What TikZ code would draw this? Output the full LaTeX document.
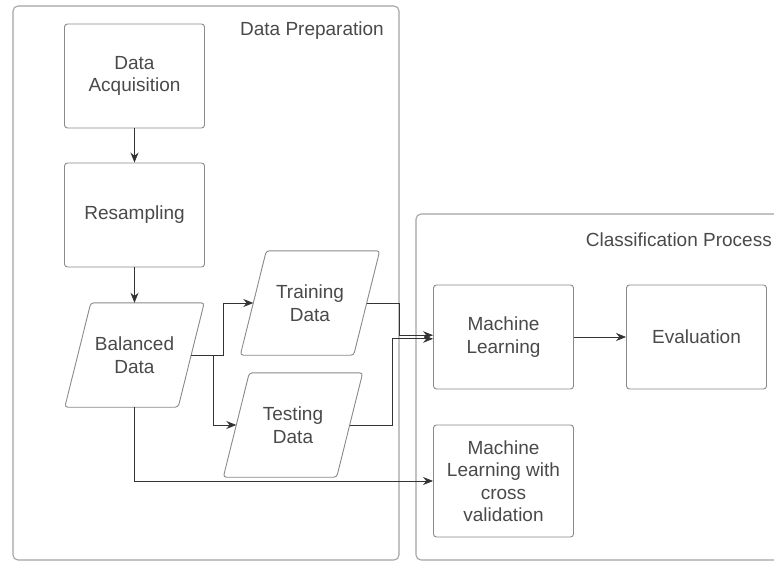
\documentclass[tikz,border=0pt]{standalone}
\usepackage{fontspec}
\setmainfont{Liberation Sans}
\usetikzlibrary{arrows.meta,calc}
\definecolor{boxline}{HTML}{8A8A8A}
\definecolor{contline}{HTML}{A4A4A4}
\definecolor{txt}{HTML}{4A4A4A}
\definecolor{arrc}{HTML}{333333}
\begin{document}
\begin{tikzpicture}[x=1pt,y=-1pt,
  font=\fontsize{19}{22.5}\selectfont,
  every node/.style={text=txt},
  container/.style={draw=contline,line width=1.1pt,rounded corners=5pt},
  procbox/.style={draw=boxline,line width=0.9pt,rounded corners=3pt,minimum width=140pt,minimum height=104pt,align=center,inner sep=0pt},
  ioarea/.style={minimum width=139pt,minimum height=104pt,align=center,inner sep=0pt},
  para/.style={draw=boxline,line width=0.9pt,rounded corners=3pt},
  arr/.style={draw=arrc,line width=0.8pt,-{Stealth[length=10pt,width=8pt]}},
  lbl/.style={anchor=east,inner sep=0pt}]
\useasboundingbox (0,0) rectangle (774,562);
\fill[white] (0,0) rectangle (774,562);
% containers
\draw[container] (13,6) rectangle (399,560);
\draw[container] (790,214) -- (416,214) -- (416,560) -- (790,560);
\node[lbl] (dplbl) at (384,31) {Data Preparation};
\node[lbl] (cplbl) at (772,240) {Classification Process};
% process boxes
\node[procbox] (acq) at (134.5,76) {Data\\Acquisition};
\node[procbox] (res) at (134.5,215) {Resampling};
\node[procbox] (ml) at (503.5,337) {Machine\\Learning};
\node[procbox] (ev) at (696.5,337) {Evaluation};
\node[procbox,minimum height=112pt] (cv) at (503.5,481) {Machine\\Learning with\\cross\\validation};
% parallelograms
\def\sl{26}
\node[ioarea] (bd) at (134.5,355) {Balanced\\Data};
\node[ioarea] (tr) at (310,303) {Training\\Data};
\node[ioarea] (te) at (293,425) {Testing\\Data};
\foreach \n in {bd,tr,te}{
  \draw[para] ($(\n.north west)+(\sl,0)$) -- (\n.north east) -- ($(\n.south east)-(\sl,0)$) -- (\n.south west) -- cycle;
}
\coordinate (bdR) at ($(bd.east)-(\sl/2,0)$);
\coordinate (trL) at ($(tr.west)+(\sl/2,0)$);
\coordinate (trR) at ($(tr.east)-(\sl/2,0)$);
\coordinate (teL) at ($(te.west)+(\sl/2,0)$);
\coordinate (teR) at ($(te.east)-(\sl/2,0)$);
\coordinate (mlA) at ([yshift=1.8pt]ml.west);
\coordinate (mlB) at ([yshift=-1.8pt]ml.west);
% connectors
\draw[arr] (acq) -- (res);
\draw[arr] (res) -- (bd.north);
\draw[arr] (bdR) -- ++(32,0) |- (trL);
\draw[arr] (bdR) -- ++(22,0) |- (teL);
\draw[arr] (bd.south) |- (cv.west);
\draw[arr] (trR) -- (399,303) |- (mlA);
\draw[arr] (teR) -- (392,425) |- (mlB);
\draw[arr] (ml) -- (ev);
\end{tikzpicture}
\end{document}
